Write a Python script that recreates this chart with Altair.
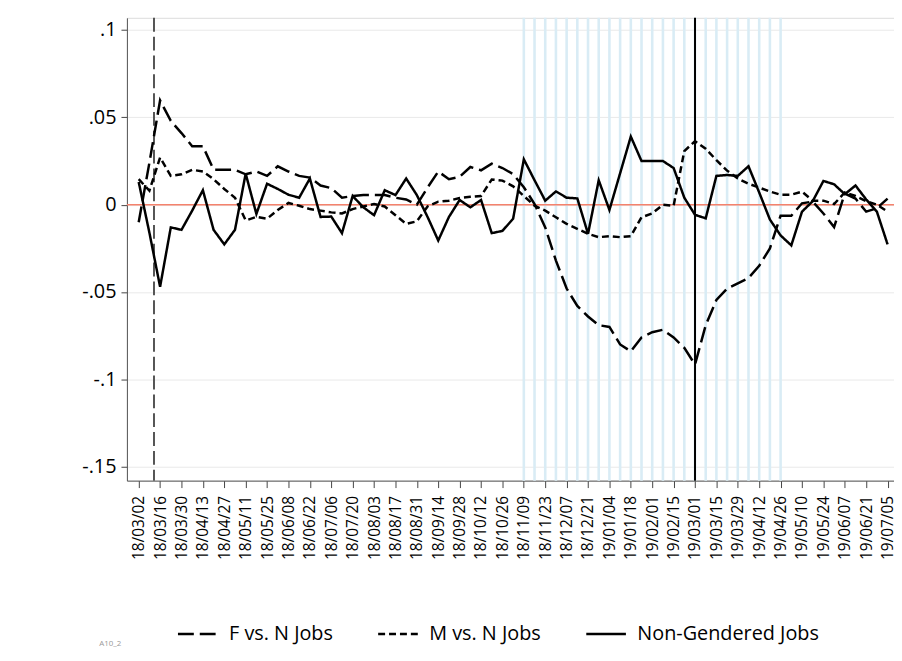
import json
import altair as alt
import pandas as pd

# ---------------- data ----------------
week_labels = [
    "18/03/02", "18/03/16", "18/03/30", "18/04/13", "18/04/27", "18/05/11",
    "18/05/25", "18/06/08", "18/06/22", "18/07/06", "18/07/20", "18/08/03",
    "18/08/17", "18/08/31", "18/09/14", "18/09/28", "18/10/12", "18/10/26",
    "18/11/09", "18/11/23", "18/12/07", "18/12/21", "19/01/04", "19/01/18",
    "19/02/01", "19/02/15", "19/03/01", "19/03/15", "19/03/29", "19/04/12",
    "19/04/26", "19/05/10", "19/05/24", "19/06/07", "19/06/21", "19/07/05",
]

f_vs_n = [
    -0.010, 0.024, 0.0597, 0.048, 0.041, 0.0335, 0.0335, 0.020, 0.020, 0.020,
    0.0174, 0.019, 0.0165, 0.022, 0.019, 0.0165, 0.0155, 0.011, 0.0095, 0.004,
    0.005, 0.0055, 0.0055, 0.0055, 0.004, 0.003, 0.0, 0.0098, 0.019, 0.0146,
    0.016, 0.0216, 0.0197, 0.0235, 0.021, 0.0175, 0.010, 0.0004, -0.013, -0.032,
    -0.048, -0.058, -0.064, -0.069, -0.070, -0.080, -0.084, -0.076, -0.073, -0.0716,
    -0.076, -0.082, -0.0915, -0.069, -0.0545, -0.048, -0.045, -0.042, -0.035, -0.025,
    -0.0063, -0.0063, 0.0008, 0.0018, -0.005, -0.0128, 0.0064, 0.0035, -0.004, -0.002,
    0.0035,
]

m_vs_n = [
    0.0146, 0.008, 0.027, 0.0165, 0.0174, 0.020, 0.019, 0.0146, 0.009, 0.004,
    -0.009, -0.007, -0.008, -0.003, 0.001, -0.0006, -0.0025, -0.0034, -0.0044, -0.005,
    -0.0025, -0.001, 0.0004, -0.001, -0.006, -0.011, -0.0095, -0.001, 0.0017, 0.0023,
    0.0038, 0.0045, 0.005, 0.0144, 0.0138, 0.0105, 0.005, -0.0006, -0.0034, -0.0072,
    -0.011, -0.0138, -0.0167, -0.0186, -0.018, -0.0186, -0.018, -0.0072, -0.005, 0.0,
    -0.0006, 0.0307, 0.0364, 0.032, 0.0255, 0.0195, 0.015, 0.012, 0.0098, 0.0075,
    0.0057, 0.0057, 0.0075, 0.0023, 0.0023, 0.0004, 0.007, 0.005, 0.002, 0.0,
    -0.004,
]

non_gendered = [
    0.013, -0.016, -0.047, -0.013, -0.0144, -0.0034, 0.0083, -0.0144, -0.0227, -0.0144,
    0.0178, -0.0053, 0.012, 0.009, 0.0057, 0.004, 0.015, -0.007, -0.0068, -0.0163,
    0.005, -0.0015, -0.006, 0.0083, 0.0055, 0.015, 0.0055, -0.007, -0.0205, -0.007,
    0.0027, -0.0015, 0.0027, -0.0163, -0.015, -0.008, 0.026, 0.014, 0.0023, 0.0076,
    0.004, 0.0036, -0.0167, 0.014, -0.003, 0.018, 0.039, 0.025, 0.025, 0.025,
    0.021, 0.004, -0.0058, -0.0078, 0.0165, 0.017, 0.0165, 0.022, 0.007, -0.0085,
    -0.0176, -0.0233, -0.004, 0.002, 0.0136, 0.0117, 0.006, 0.011, 0.003, -0.004,
    -0.0227,
]

series_names = ["F vs. N Jobs", "M vs. N Jobs", "Non-Gendered Jobs"]
shaded_weeks = list(range(36, 61))   # weekly light-blue markers
event_dashed_week = [1.43]           # dashed vertical event line
event_solid_week = [52]              # solid vertical event line
zero_line = [0.0]
y_ticks = [-0.15, -0.1, -0.05, 0, 0.05, 0.1]

# ---------------- tables ----------------
weeks = list(range(len(f_vs_n)))
rows = []
for name, vals in zip(series_names, [f_vs_n, m_vs_n, non_gendered]):
    for w, v in zip(weeks, vals):
        rows.append({"week": w, "value": v, "series": name})
df = pd.DataFrame(rows)

FONT = "Open Sans"
x_scale = alt.Scale(domain=[-1.1, 70.6], nice=False, zero=False)
y_scale = alt.Scale(domain=[-0.158, 0.107], nice=False, zero=False)

label_expr = json.dumps(week_labels) + "[round(datum.value / 2)]"

x_axis = alt.Axis(
    values=list(range(0, 71, 2)),
    labelExpr=label_expr,
    labelAngle=-90,
    labelFontSize=15.5,
    labelFont=FONT,
    labelColor="black",
    labelPadding=8,
    labelOverlap=False,
    labelBound=False,
    labelFlush=False,
    tickSize=7,
    tickColor="#444",
    domainColor="#555",
    grid=False,
    title=None,
)

y_axis = alt.Axis(
    values=y_ticks,
    labelExpr="datum.value == 0 ? '0' : (datum.value < 0 ? '-' : '') + replace(format(abs(datum.value), '.2~f'), '0.', '.')",
    labelFontSize=20,
    labelFont=FONT,
    labelColor="black",
    labelPadding=5,
    labelOverlap=False,
    tickSize=6,
    tickColor="#444",
    domainColor="#555",
    grid=True,
    gridColor="#e9e9e9",
    gridWidth=1,
    title=None,
)

x_enc = alt.X("week:Q", scale=x_scale, axis=x_axis)
y_enc = alt.Y("value:Q", scale=y_scale, axis=y_axis)

shade = alt.Chart(pd.DataFrame({"week": shaded_weeks})).mark_rule(
    color="#d9ecf5", strokeWidth=2.6
).encode(x=x_enc)

zero = alt.Chart(pd.DataFrame({"value": zero_line})).mark_rule(
    color="#f4826d", strokeWidth=1.5
).encode(y=y_enc)

ev_dash = alt.Chart(pd.DataFrame({"week": event_dashed_week})).mark_rule(
    color="#555555", strokeWidth=2, strokeDash=[14, 5]
).encode(x=x_enc)

ev_solid = alt.Chart(pd.DataFrame({"week": event_solid_week})).mark_rule(
    color="black", strokeWidth=2
).encode(x=x_enc)

lines = alt.Chart(df).mark_line(color="black").encode(
    x=x_enc,
    y=y_enc,
    strokeDash=alt.StrokeDash(
        "series:N",
        scale=alt.Scale(domain=series_names, range=[[16, 6], [7, 4], [1, 0]]),
        legend=alt.Legend(
            title=None,
            orient="none",
            legendX=50,
            legendY=600,
            direction="horizontal",
            symbolType="stroke",
            symbolSize=1600,
            symbolStrokeWidth=2.2,
            symbolStrokeColor="black",
            labelFont=FONT,
            labelFontSize=20,
            labelColor="black",
            labelOffset=10,
            columnPadding=40,
            padding=0,
            labelLimit=400,
        ),
    ),
    strokeWidth=alt.StrokeWidth(
        "series:N",
        scale=alt.Scale(domain=series_names, range=[2.5, 2.5, 1.5]),
        legend=None,
    ),
    detail="series:N",
)

note = alt.Chart(pd.DataFrame({"t": ["A10_2"]})).mark_text(
    align="left", baseline="middle", fontSize=8, color="#999999", font=FONT
).encode(x=alt.value(-28), y=alt.value(632), text="t:N")

chart = (
    alt.layer(shade, zero, ev_dash, ev_solid, lines, note)
    .properties(
        width=774,
        height=467,
        padding={"left": 120, "top": 7, "right": 0, "bottom": 170},
        autosize=alt.AutoSizeParams(type="none"),
        background="white",
    )
    .configure_view(strokeWidth=0)
    .configure(font=FONT)
)

chart.save("out.html", embed_options={"renderer": "svg", "actions": False})
